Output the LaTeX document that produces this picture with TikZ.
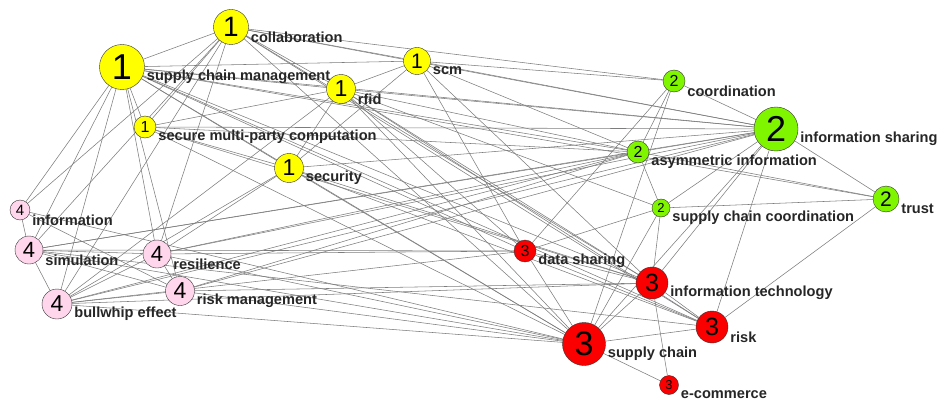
\documentclass[tikz,border=0pt]{standalone}
\usepackage{fontspec}
\setmainfont{Liberation Sans}
\usetikzlibrary{backgrounds}

\definecolor{kwyellow}{RGB}{255,255,0}
\definecolor{kwgreen}{RGB}{127,245,0}
\definecolor{kwred}{RGB}{250,0,0}
\definecolor{kwpink}{RGB}{255,214,236}
\definecolor{edgegray}{RGB}{125,125,125}
\newcommand\fsz[1]{\fontsize{#1}{#1}\selectfont}

\tikzset{
  kw/.style={circle, draw=black!80, thin, inner sep=0pt},
  c1/.style={kw, fill=kwyellow},
  c2/.style={kw, fill=kwgreen},
  c3/.style={kw, fill=kwred},
  c4/.style={kw, fill=kwpink},
  lbl/.style={anchor=west, inner sep=0pt, xshift=2pt, yshift=-10pt,
    font=\bfseries\fsz{14.6}, text=black!85},
  edge/.style={draw=edgegray, line width=0.55pt}
}

\begin{document}
\begin{tikzpicture}[x=1pt, y=-1pt]
    \useasboundingbox (0,0) rectangle (939,401);
    % cluster 1
    \node[c1, minimum size=45pt, font=\fsz{36}, label={[lbl]east:supply chain management}] (scmgmt) at (122,67) {1};
    \node[c1, minimum size=35pt, font=\fsz{28}, label={[lbl]east:collaboration}] (collab) at (231,27) {1};
    \node[c1, minimum size=27pt, font=\fsz{21}, label={[lbl]east:scm}] (scm) at (417,61) {1};
    \node[c1, minimum size=29pt, font=\fsz{23}, label={[lbl]east:rfid}] (rfid) at (341,89) {1};
    \node[c1, minimum size=22pt, font=\fsz{16}, label={[lbl]east:secure multi-party computation}] (smpc) at (145,127) {1};
    \node[c1, minimum size=29pt, font=\fsz{23}, label={[lbl]east:security}] (security) at (289,168) {1};
    % cluster 2
    \node[c2, minimum size=22pt, font=\fsz{16}, label={[lbl]east:coordination}] (coord) at (674,81) {2};
    \node[c2, minimum size=44pt, font=\fsz{36}, label={[lbl,xshift=0pt]east:information sharing}] (infoshare) at (776,129) {2};
    \node[c2, minimum size=22pt, font=\fsz{16}, label={[lbl]east:asymmetric information}] (asym) at (638,152) {2};
    \node[c2, minimum size=18pt, font=\fsz{13}, label={[lbl]east:supply chain coordination}] (scc) at (661,208) {2};
    \node[c2, minimum size=26pt, font=\fsz{21}, label={[lbl]east:trust}] (trust) at (886,199) {2};
    % cluster 3
    \node[c3, minimum size=22pt, font=\fsz{16}, label={[lbl]east:data sharing}] (datashare) at (525,251) {3};
    \node[c3, minimum size=32pt, font=\fsz{25}, label={[lbl]east:information technology}] (infotech) at (652,283) {3};
    \node[c3, minimum size=32pt, font=\fsz{25}, label={[lbl]east:risk}] (risk) at (712,327) {3};
    \node[c3, minimum size=43pt, font=\fsz{34}, label={[lbl]east:supply chain}] (supchain) at (584,344) {3};
    \node[c3, minimum size=19pt, font=\fsz{13}, label={[lbl]east:e-commerce}] (ecom) at (669,385) {3};
    % cluster 4
    \node[c4, minimum size=20pt, font=\fsz{15}, label={[lbl]east:information}] (info) at (20,210) {4};
    \node[c4, minimum size=28pt, font=\fsz{22}, label={[lbl]east:simulation}] (simul) at (29,250) {4};
    \node[c4, minimum size=28pt, font=\fsz{22}, label={[lbl]east:resilience}] (resil) at (157,254) {4};
    \node[c4, minimum size=29pt, font=\fsz{23}, label={[lbl]east:risk management}] (riskmgmt) at (180,291) {4};
    \node[c4, minimum size=30pt, font=\fsz{23}, label={[lbl]east:bullwhip effect}] (bullwhip) at (57,304) {4};
    % co-occurrence edges
    \begin{scope}[on background layer]
    \foreach \a/\b in {
      scmgmt/collab, scmgmt/scm, scmgmt/rfid, scmgmt/smpc, scmgmt/security,
      collab/scm, collab/rfid, collab/smpc, scm/rfid, rfid/security,
      smpc/security, rfid/smpc, scm/security,
      scmgmt/infoshare, scmgmt/asym, scmgmt/trust, scmgmt/datashare,
      scmgmt/infotech, scmgmt/risk, scmgmt/supchain, scmgmt/info,
      scmgmt/simul, scmgmt/bullwhip, scmgmt/resil, scmgmt/riskmgmt,
      collab/coord, collab/infoshare, collab/infotech, collab/risk,
      collab/supchain, collab/info, collab/bullwhip, collab/resil, collab/simul,
      scm/coord, scm/infoshare, scm/asym, scm/datashare, scm/infotech,
      rfid/infoshare, rfid/asym, rfid/scc, rfid/infotech, rfid/risk,
      rfid/supchain, rfid/datashare, rfid/bullwhip,
      smpc/infoshare, smpc/asym, smpc/infotech, smpc/supchain,
      security/infoshare, security/supchain, security/infotech,
      security/risk, security/resil, security/bullwhip,
      coord/infoshare, coord/asym, coord/supchain, coord/datashare,
      infoshare/asym, infoshare/scc, infoshare/trust, infoshare/infotech,
      infoshare/risk, infoshare/supchain, infoshare/simul, infoshare/bullwhip,
      infoshare/riskmgmt, infoshare/resil,
      asym/scc, asym/trust, asym/simul, asym/bullwhip, asym/riskmgmt, asym/resil,
      scc/trust, scc/infotech, scc/supchain, scc/datashare, trust/risk,
      datashare/infotech, datashare/risk, datashare/supchain,
      infotech/risk, infotech/supchain, infotech/ecom, risk/supchain,
      supchain/ecom,
      info/simul, simul/bullwhip, simul/resil, simul/riskmgmt,
      bullwhip/resil, bullwhip/riskmgmt, resil/riskmgmt, info/riskmgmt,
      info/supchain, simul/supchain, bullwhip/supchain, riskmgmt/supchain,
      resil/supchain, simul/risk, bullwhip/infotech, riskmgmt/infotech,
      resil/datashare, bullwhip/datashare, simul/datashare}
    \draw[edge] (\a) -- (\b);
    \end{scope}
\end{tikzpicture}
\end{document}
